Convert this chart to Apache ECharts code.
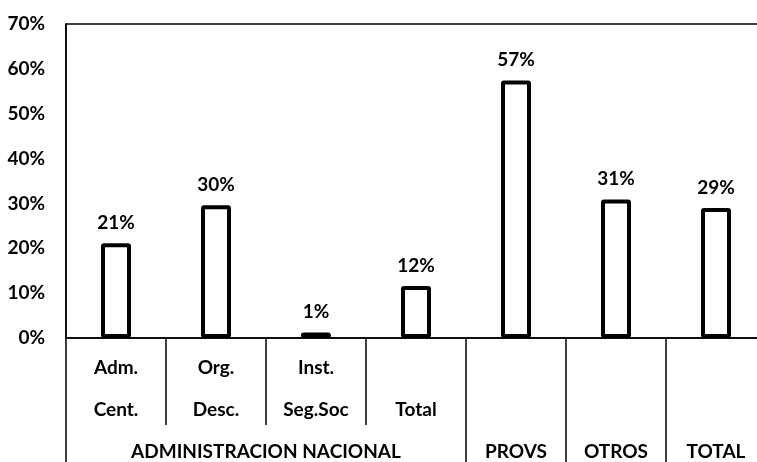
<!DOCTYPE html>
<html>
<head>
<meta charset="utf-8">
<script src="https://cdn.jsdelivr.net/npm/echarts@6/dist/echarts.min.js"></script>
<style>
  html, body { margin: 0; padding: 0; background: #fff; }
  #chart { width: 757px; height: 462px; }
</style>
</head>
<body>
<div id="chart"></div>
<script>
// bar categories (two text rows under each bar)
const categories = ['Adm.\nCent.', 'Org.\nDesc.', 'Inst.\nSeg.Soc', '\nTotal', '', '', '']
const values = [21.1, 29.6, 1.2, 11.6, 57.4, 30.9, 29.0]

// group row: centre position (in bar units) and name
const groupCenters = [2, 4.5, 5.5, 6.5]
const groupNames = ['ADMINISTRACION NACIONAL', 'PROVS', 'OTROS', 'TOTAL']
const groupBounds = [0, 4, 5, 6, 7]

const FONT = 'Lato'
const INK = '#000'
const FS = 19

const chart = echarts.init(document.getElementById('chart'), null, { renderer: 'canvas' })

chart.setOption({
  animation: false,
  backgroundColor: '#fff',
  grid: {
    left: 66,
    top: 24,
    width: 700, // plot runs past the right edge of the picture
    bottom: 124,
    outerBoundsMode: 'none',
    containLabel: false,
    show: true,
    borderColor: INK,
    borderWidth: 1.5,
    backgroundColor: 'transparent',
  },
  yAxis: {
    type: 'value',
    min: 0,
    max: 70,
    interval: 10,
    axisLine: { show: true, lineStyle: { color: INK, width: 1.5 } },
    axisTick: { show: false },
    splitLine: { show: false },
    axisLabel: {
      formatter: '{value}%',
      margin: 21,
      color: INK,
      fontFamily: FONT,
      fontWeight: 'bold',
      fontSize: FS,
    },
  },
  xAxis: [
    {
      type: 'category',
      data: categories,
      position: 'bottom',
      axisLine: { show: true, lineStyle: { color: INK, width: 1.5 } },
      axisTick: { show: true, interval: 0, length: 87, lineStyle: { color: INK, width: 1.5 } },
      axisLabel: {
        interval: 0,
        margin: 9,
        lineHeight: 42,
        color: INK,
        fontFamily: FONT,
        fontWeight: 'bold',
        fontSize: FS,
      },
    },
    {
      type: 'value',
      min: 0,
      max: 7,
      position: 'bottom',
      axisLine: { show: false },
      splitLine: { show: false },
      axisTick: {
        show: true,
        customValues: groupBounds,
        length: 124,
        lineStyle: { color: INK, width: 1.5 },
      },
      axisLabel: {
        customValues: groupCenters,
        formatter: (v) => groupNames[groupCenters.indexOf(v)] || '',
        margin: 104,
        lineHeight: 20,
        color: INK,
        fontFamily: FONT,
        fontWeight: 'bold',
        fontSize: FS,
      },
    },
  ],
  series: [
    {
      type: 'bar',
      xAxisIndex: 0,
      data: values,
      barWidth: 30,
      itemStyle: {
        color: '#fff',
        borderColor: INK,
        borderWidth: 4,
        borderRadius: 1,
      },
      label: {
        show: true,
        position: 'top',
        distance: 11,
        formatter: (p) => Math.round(p.value) + '%',
        color: INK,
        fontFamily: FONT,
        fontWeight: 'bold',
        fontSize: FS,
      },
    },
  ],
})
</script>
</body>
</html>
